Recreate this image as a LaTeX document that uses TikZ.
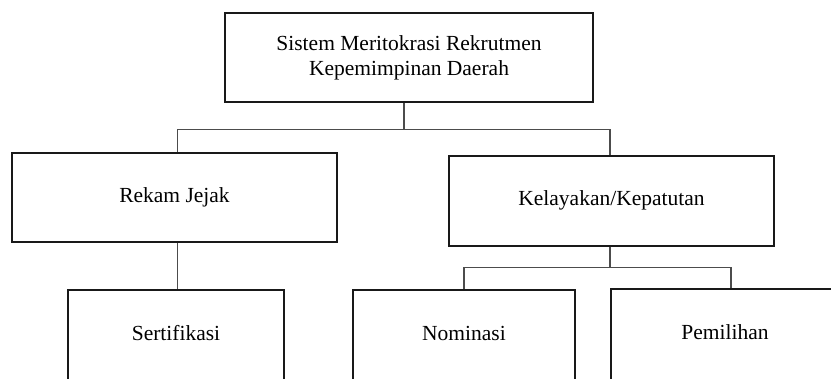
\documentclass[tikz,border=0pt]{standalone}
\usepackage{fontspec}
\setmainfont{Liberation Serif}
\begin{document}
\begin{tikzpicture}[x=1pt,y=-1pt,
  box/.style={draw=black!90,line width=2pt,fill=white,inner sep=0pt,align=center,
    font=\fontsize{21.5}{25}\selectfont},
  low/.style={minimum height=100pt,text depth=14pt},
  conn/.style={draw=black!70,line width=1.2pt}]
\useasboundingbox (0,0) rectangle (831,378);
\clip (0,0) rectangle (831,378);
\node[box,minimum width=368pt,minimum height=89.6pt] (top) at (409,57.5)
  {Sistem Meritokrasi Rekrutmen\\Kepemimpinan Daerah};
\node[box,minimum width=325pt,minimum height=89.6pt] (rekam) at (174.5,197.5) {Rekam Jejak};
\node[box,minimum width=325pt,minimum height=90pt] (layak) at (611.5,200.6) {Kelayakan/Kepatutan};
\node[box,low,minimum width=216.3pt] (sert) at (176,339.7) {Sertifikasi};
\node[box,low,minimum width=222pt] (nomi) at (464,340) {Nominasi};
\node[box,low,minimum width=228pt] (pemi) at (725,339.3) {Pemilihan};
\coordinate (j1) at (404,129.5);
\coordinate (xa) at (177.7,0);
\coordinate (xb) at (610,0);
\coordinate (j2) at (610,267.5);
\coordinate (xc) at (464,0);
\coordinate (xd) at (731,0);
\draw[conn] (top.south -| j1) -- (j1);
\draw[conn] (rekam.north -| xa) |- (j1) -| (layak.north -| xb);
\draw[conn] (rekam.south -| xa) -- (sert.north -| xa);
\draw[conn] (layak.south -| xb) -- (j2);
\draw[conn] (nomi.north -| xc) |- (j2) -| (pemi.north -| xd);
\end{tikzpicture}
\end{document}
